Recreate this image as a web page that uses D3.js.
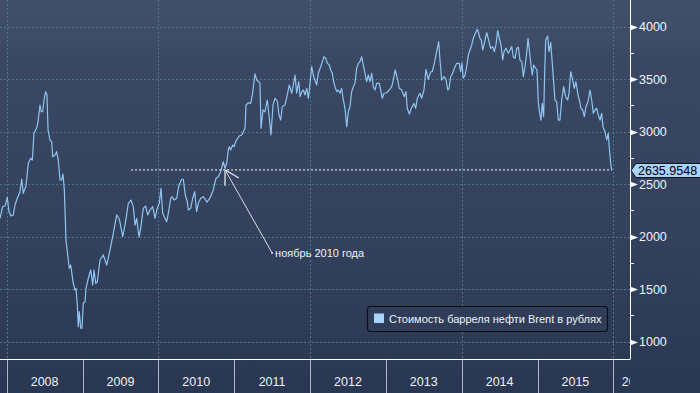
<!DOCTYPE html>
<html>
<head>
<meta charset="utf-8">
<script src="https://cdn.jsdelivr.net/npm/d3@7"></script>
<style>
  html, body { margin: 0; padding: 0; background: #2e3c57; }
  svg { display: block; font-family: "Liberation Sans", Arial, sans-serif; }
</style>
</head>
<body>
<div id="chart"></div>
<script>
// даты в долях года и цена барреля Brent в рублях
var dates = [
  2007.912, 2007.947, 2007.978, 2008.008, 2008.030, 2008.057, 2008.087, 2008.109, 2008.140, 2008.175,
  2008.198, 2008.219, 2008.254, 2008.285, 2008.316, 2008.338, 2008.360, 2008.382, 2008.400, 2008.413,
  2008.439, 2008.456, 2008.475, 2008.492, 2008.514, 2008.531, 2008.545, 2008.571, 2008.593, 2008.607,
  2008.637, 2008.659, 2008.680, 2008.703, 2008.725, 2008.742, 2008.760, 2008.782, 2008.812, 2008.826,
  2008.844, 2008.878, 2008.901, 2008.914, 2008.931, 2008.944, 2008.957, 2008.976, 2008.993, 2009.010,
  2009.033, 2009.046, 2009.076, 2009.108, 2009.134, 2009.151, 2009.174, 2009.195, 2009.230, 2009.274,
  2009.319, 2009.362, 2009.406, 2009.451, 2009.485, 2009.530, 2009.560, 2009.604, 2009.639, 2009.669,
  2009.692, 2009.714, 2009.745, 2009.767, 2009.801, 2009.833, 2009.859, 2009.890, 2009.925, 2009.956,
  2009.978, 2010.012, 2010.035, 2010.057, 2010.087, 2010.110, 2010.131, 2010.163, 2010.184, 2010.206,
  2010.242, 2010.268, 2010.308, 2010.329, 2010.355, 2010.382, 2010.395, 2010.426, 2010.453, 2010.479,
  2010.505, 2010.527, 2010.558, 2010.593, 2010.641, 2010.681, 2010.724, 2010.760, 2010.790, 2010.822,
  2010.856, 2010.879, 2010.901, 2010.922, 2010.935, 2010.954, 2010.980, 2010.997, 2011.024, 2011.046,
  2011.067, 2011.099, 2011.120, 2011.143, 2011.156, 2011.186, 2011.218, 2011.239, 2011.261, 2011.274,
  2011.297, 2011.323, 2011.340, 2011.354, 2011.380, 2011.406, 2011.436, 2011.463, 2011.485, 2011.512,
  2011.538, 2011.568, 2011.591, 2011.613, 2011.634, 2011.670, 2011.700, 2011.727, 2011.758, 2011.780,
  2011.802, 2011.824, 2011.851, 2011.868, 2011.891, 2011.912, 2011.934, 2011.956, 2011.978, 2012.000,
  2012.022, 2012.043, 2012.065, 2012.088, 2012.109, 2012.141, 2012.162, 2012.184, 2012.207, 2012.228,
  2012.254, 2012.273, 2012.294, 2012.307, 2012.329, 2012.352, 2012.373, 2012.395, 2012.417, 2012.439,
  2012.461, 2012.484, 2012.505, 2012.527, 2012.549, 2012.571, 2012.593, 2012.615, 2012.637, 2012.659,
  2012.681, 2012.703, 2012.725, 2012.747, 2012.769, 2012.791, 2012.813, 2012.834, 2012.857, 2012.879,
  2012.914, 2012.932, 2012.953, 2012.976, 2013.011, 2013.045, 2013.077, 2013.098, 2013.124, 2013.151,
  2013.177, 2013.209, 2013.243, 2013.265, 2013.283, 2013.309, 2013.341, 2013.371, 2013.393, 2013.415,
  2013.450, 2013.472, 2013.503, 2013.529, 2013.560, 2013.591, 2013.612, 2013.639, 2013.670, 2013.697,
  2013.714, 2013.736, 2013.767, 2013.793, 2013.816, 2013.833, 2013.855, 2013.876, 2013.912, 2013.934,
  2013.968, 2013.987, 2014.004, 2014.021, 2014.044, 2014.066, 2014.087, 2014.109, 2014.132, 2014.153,
  2014.175, 2014.206, 2014.224, 2014.241, 2014.259, 2014.277, 2014.298, 2014.330, 2014.356, 2014.382,
  2014.409, 2014.430, 2014.452, 2014.475, 2014.496, 2014.518, 2014.541, 2014.558, 2014.584, 2014.615,
  2014.637, 2014.660, 2014.681, 2014.703, 2014.726, 2014.747, 2014.769, 2014.792, 2014.813, 2014.835,
  2014.857, 2014.875, 2014.897, 2014.914, 2014.931, 2014.950, 2014.976, 2014.993, 2015.011, 2015.029,
  2015.046, 2015.063, 2015.081, 2015.095, 2015.108, 2015.134, 2015.151, 2015.174, 2015.195, 2015.230,
  2015.253, 2015.274, 2015.296, 2015.319, 2015.345, 2015.371, 2015.398, 2015.415, 2015.438, 2015.464,
  2015.485, 2015.507, 2015.530, 2015.551, 2015.574, 2015.596, 2015.617, 2015.639, 2015.666, 2015.692,
  2015.714, 2015.736, 2015.758, 2015.780, 2015.801, 2015.824, 2015.846, 2015.863, 2015.890, 2015.912,
  2015.933, 2015.947, 2015.969, 2015.982
];

var prices = [
  2175, 2286, 2292, 2375, 2238, 2197, 2207, 2302, 2366, 2429,
  2547, 2413, 2483, 2699, 2747, 2730, 2985, 3016, 3048, 3095,
  3254, 3190, 3190, 3302, 3381, 3350, 3016, 2921, 2905, 2762,
  2778, 2810, 2730, 2540, 2540, 2597, 2445, 1968, 1778, 1699,
  1730, 1556, 1492, 1509, 1350, 1143, 1286, 1128, 1128, 1366,
  1381, 1509, 1604, 1683, 1540, 1683, 1556, 1571, 1778, 1826,
  1730, 1873, 2032, 2207, 2169, 2000, 2111, 2318, 2349, 2286,
  2111, 2175, 1997, 2080, 2270, 2292, 2207, 2254, 2286, 2175,
  2254, 2318, 2461, 2223, 2175, 2143, 2223, 2366, 2381, 2349,
  2366, 2483, 2547, 2547, 2397, 2333, 2254, 2270, 2366, 2429,
  2238, 2318, 2366, 2381, 2330, 2369, 2445, 2556, 2571, 2619,
  2714, 2651, 2699, 2826, 2857, 2826, 2873, 2857, 2914, 2937,
  2959, 2969, 3000, 3032, 3254, 3276, 3270, 3350, 3476, 3550,
  3492, 3476, 3461, 3032, 3207, 3190, 3302, 3130, 2969, 3254,
  3318, 3292, 3159, 3111, 3238, 3254, 3350, 3445, 3366, 3445,
  3540, 3366, 3476, 3333, 3381, 3397, 3350, 3413, 3318, 3461,
  3619, 3540, 3492, 3445, 3556, 3619, 3667, 3714, 3699, 3651,
  3635, 3588, 3556, 3492, 3429, 3381, 3397, 3366, 3413, 3302,
  3223, 3048, 3190, 3238, 3381, 3429, 3461, 3604, 3651, 3667,
  3714, 3635, 3556, 3476, 3540, 3476, 3556, 3429, 3397, 3461,
  3461, 3397, 3318, 3366, 3371, 3397, 3429, 3492, 3588, 3509,
  3413, 3397, 3333, 3381, 3223, 3169, 3232, 3270, 3223, 3318,
  3366, 3318, 3397, 3594, 3499, 3571, 3571, 3651, 3762, 3857,
  3683, 3492, 3524, 3499, 3397, 3413, 3524, 3550, 3619, 3651,
  3651, 3571, 3657, 3509, 3540, 3619, 3730, 3778, 3826, 3890,
  3930, 3975, 3937, 3890, 3873, 3778, 3842, 3943, 3873, 3794,
  3810, 3762, 3826, 3962, 3890, 3826, 3683, 3762, 3794, 3747,
  3778, 3810, 3714, 3699, 3794, 3804, 3683, 3667, 3524, 3619,
  3747, 3890, 3747, 3635, 3540, 3635, 3604, 3588, 3270, 3175,
  3111, 3270, 3143, 3588, 3873, 3911, 3762, 3848, 3651, 3302,
  3286, 3111, 3111, 3302, 3429, 3333, 3302, 3366, 3571, 3492,
  3413, 3476, 3366, 3302, 3223, 3207, 3143, 3238, 3286, 3397,
  3302, 3175, 3207, 3223, 3159, 3111, 3175, 3048, 3000, 2921,
  2985, 2842, 2667, 2635.9548
];

var yearLabels = [2008, 2009, 2010, 2011, 2012, 2013, 2014, 2015, 2016];
var gridYears = [2008, 2010, 2012, 2014, 2016];
var yTicks = [1000, 1500, 2000, 2500, 3000, 3500, 4000];
var yMinorTicks = [1250, 1750, 2250, 2750, 3250, 3750];
var seriesName = "Стоимость барреля нефти Brent в рублях";
var noteText = "ноябрь 2010 года";
var noteDate = 2010.88;
var refLineStart = 2009.64;

var width = 700;
var height = 393;
var plotRight = 630;
var plotBottom = 359.5;

var data = dates.map(function(d, i) { return { t: d, v: prices[i] }; });
var lastValue = prices[prices.length - 1];

var svg = d3.select("#chart")
  .append("svg")
  .attr("width", width)
  .attr("height", height);

var defs = svg.append("defs");

// фон в стиле терминала Bloomberg
var grad = defs.append("linearGradient")
  .attr("id", "bg")
  .attr("x1", 0).attr("y1", 0).attr("x2", 0).attr("y2", 1);
grad.append("stop").attr("offset", "0%").attr("stop-color", "#415069");
grad.append("stop").attr("offset", "12%").attr("stop-color", "#3d4c66");
grad.append("stop").attr("offset", "13%").attr("stop-color", "#3a4863");
grad.append("stop").attr("offset", "60%").attr("stop-color", "#33415d");
grad.append("stop").attr("offset", "100%").attr("stop-color", "#2a3753");

defs.append("clipPath")
  .attr("id", "plot-clip")
  .append("rect")
  .attr("x", 0).attr("y", 0)
  .attr("width", plotRight).attr("height", plotBottom);

svg.append("rect")
  .attr("width", width)
  .attr("height", height)
  .attr("fill", "url(#bg)");

var x = d3.scaleLinear()
  .domain([2007.9116, 2016.2196])
  .range([0, plotRight]);

var y = d3.scaleLinear()
  .domain([1000, 4000])
  .range([341.7, 26.7]);

// сетка
svg.append("g")
  .selectAll("line")
  .data(yTicks)
  .enter().append("line")
  .attr("x1", 0)
  .attr("x2", plotRight)
  .attr("y1", function(d) { return Math.round(y(d)) + 0.5; })
  .attr("y2", function(d) { return Math.round(y(d)) + 0.5; })
  .attr("stroke", "#4d7889")
  .attr("stroke-dasharray", "2,2");

svg.append("g")
  .selectAll("line")
  .data(gridYears)
  .enter().append("line")
  .attr("x1", function(d) { return Math.round(x(d)) + 0.5; })
  .attr("x2", function(d) { return Math.round(x(d)) + 0.5; })
  .attr("y1", 0)
  .attr("y2", plotBottom)
  .attr("stroke", "#4d7889")
  .attr("stroke-dasharray", "2,2");

// линия цены
var line = d3.line()
  .x(function(d) { return x(d.t); })
  .y(function(d) { return y(d.v); });

svg.append("path")
  .datum(data)
  .attr("clip-path", "url(#plot-clip)")
  .attr("fill", "none")
  .attr("stroke", "#8fc5f2")
  .attr("stroke-width", 1.2)
  .attr("stroke-linejoin", "round")
  .attr("d", line);

// пунктир на уровне последнего значения
svg.append("line")
  .attr("x1", x(refLineStart))
  .attr("x2", x(dates[dates.length - 1]))
  .attr("y1", y(lastValue))
  .attr("y2", y(lastValue))
  .attr("stroke", "#ffffff")
  .attr("stroke-width", 1)
  .attr("stroke-dasharray", "2,2");

// стрелка к ноябрю 2010
var tipX = x(noteDate);
var tipY = y(lastValue);
var endX = tipX + 47;
var endY = tipY + 83;
var ang = Math.atan2(endY - tipY, endX - tipX);
var headLen = 16;

svg.append("line")
  .attr("x1", endX).attr("y1", endY)
  .attr("x2", tipX).attr("y2", tipY)
  .attr("stroke", "#d9dde4")
  .attr("stroke-width", 1);

[ang + Math.PI / 6, ang - Math.PI / 6].forEach(function(a, i) {
  svg.append("line")
    .attr("x1", tipX).attr("y1", tipY)
    .attr("x2", tipX + headLen * Math.cos(a))
    .attr("y2", tipY + headLen * Math.sin(a))
    .attr("stroke", i === 0 ? "#a9b1be" : "#dfe3ea")
    .attr("stroke-width", i === 0 ? 2 : 1.3);
});

svg.append("circle")
  .attr("cx", endX).attr("cy", endY)
  .attr("r", 1)
  .attr("fill", "#d9dde4");

svg.append("text")
  .attr("x", endX + 3)
  .attr("y", endY + 4)
  .attr("fill", "#eef2f8")
  .style("font-size", "11px")
  .text(noteText);

// нижняя ось с годами
svg.append("line")
  .attr("x1", 0).attr("x2", plotRight)
  .attr("y1", plotBottom).attr("y2", plotBottom)
  .attr("stroke", "#ffffff");

svg.append("g")
  .selectAll("line")
  .data(yearLabels)
  .enter().append("line")
  .attr("x1", function(d) { return Math.round(x(d)) + 0.5; })
  .attr("x2", function(d) { return Math.round(x(d)) + 0.5; })
  .attr("y1", plotBottom + 0.5)
  .attr("y2", height)
  .attr("stroke", "#aeb5c2");

var labelClip = defs.append("clipPath").attr("id", "label-clip");
labelClip.append("rect")
  .attr("x", 0).attr("y", plotBottom)
  .attr("width", plotRight).attr("height", height - plotBottom);

svg.append("g")
  .attr("clip-path", "url(#label-clip)")
  .selectAll("text")
  .data(yearLabels)
  .enter().append("text")
  .attr("x", function(d) {
    var mid = (x(d) + x(d + 1)) / 2;
    // последний неполный год подписываем от начала полосы
    return mid > plotRight ? x(d) + 8.5 : mid;
  })
  .attr("y", 386)
  .attr("text-anchor", function(d) {
    return (x(d) + x(d + 1)) / 2 > plotRight ? "start" : "middle";
  })
  .attr("fill", "#eef2f8")
  .style("font-size", "12.5px")
  .text(function(d) { return d; });

// правая ось
svg.append("line")
  .attr("x1", plotRight + 0.5).attr("x2", plotRight + 0.5)
  .attr("y1", 0).attr("y2", plotBottom)
  .attr("stroke", "#ffffff");

svg.append("g")
  .selectAll("path")
  .data(yTicks)
  .enter().append("path")
  .attr("d", function(d) {
    var yy = Math.round(y(d)) + 0.5;
    return "M" + plotRight + "," + (yy - 3) + "L" + (plotRight + 8) + "," + yy + "L" + plotRight + "," + (yy + 3) + "Z";
  })
  .attr("fill", "#ffffff");

svg.append("g")
  .selectAll("line")
  .data(yMinorTicks)
  .enter().append("line")
  .attr("x1", plotRight)
  .attr("x2", plotRight + 4)
  .attr("y1", function(d) { return Math.round(y(d)) + 0.5; })
  .attr("y2", function(d) { return Math.round(y(d)) + 0.5; })
  .attr("stroke", "#ffffff");

svg.append("g")
  .selectAll("text")
  .data(yTicks)
  .enter().append("text")
  .attr("x", plotRight + 9)
  .attr("y", function(d) { return y(d) + 4.5; })
  .attr("fill", "#eef2f8")
  .style("font-size", "12.5px")
  .text(function(d) { return d; });

// метка последнего значения
var tagY = Math.round(y(lastValue)) + 0.5;
svg.append("path")
  .attr("d", "M" + (plotRight + 1) + "," + tagY +
    "L" + (plotRight + 6) + "," + (tagY - 7) +
    "L" + (width + 2) + "," + (tagY - 7) +
    "L" + (width + 2) + "," + (tagY + 7) +
    "L" + (plotRight + 6) + "," + (tagY + 7) + "Z")
  .attr("fill", "#a9d3f7")
  .attr("stroke", "#0d1420")
  .attr("stroke-width", 1);

svg.append("text")
  .attr("x", plotRight + 8)
  .attr("y", tagY + 4.5)
  .attr("fill", "#000000")
  .style("font-size", "12.5px")
  .text(d3.format(".4f")(lastValue));

// легенда
var legend = svg.append("g")
  .attr("transform", "translate(367,306)");

legend.append("rect")
  .attr("x", 0.5).attr("y", 0.5)
  .attr("width", 240).attr("height", 25)
  .attr("rx", 3)
  .attr("fill", "#2f3d59")
  .attr("stroke", "#0b0f18")
  .attr("stroke-width", 1.2);

legend.append("rect")
  .attr("x", 7).attr("y", 7.5)
  .attr("width", 10).attr("height", 9.5)
  .attr("fill", "#a9d3f7");

legend.append("text")
  .attr("x", 22)
  .attr("y", 16.5)
  .attr("fill", "#eef2f8")
  .style("font-size", "11px")
  .text(seriesName);
</script>
</body>
</html>
